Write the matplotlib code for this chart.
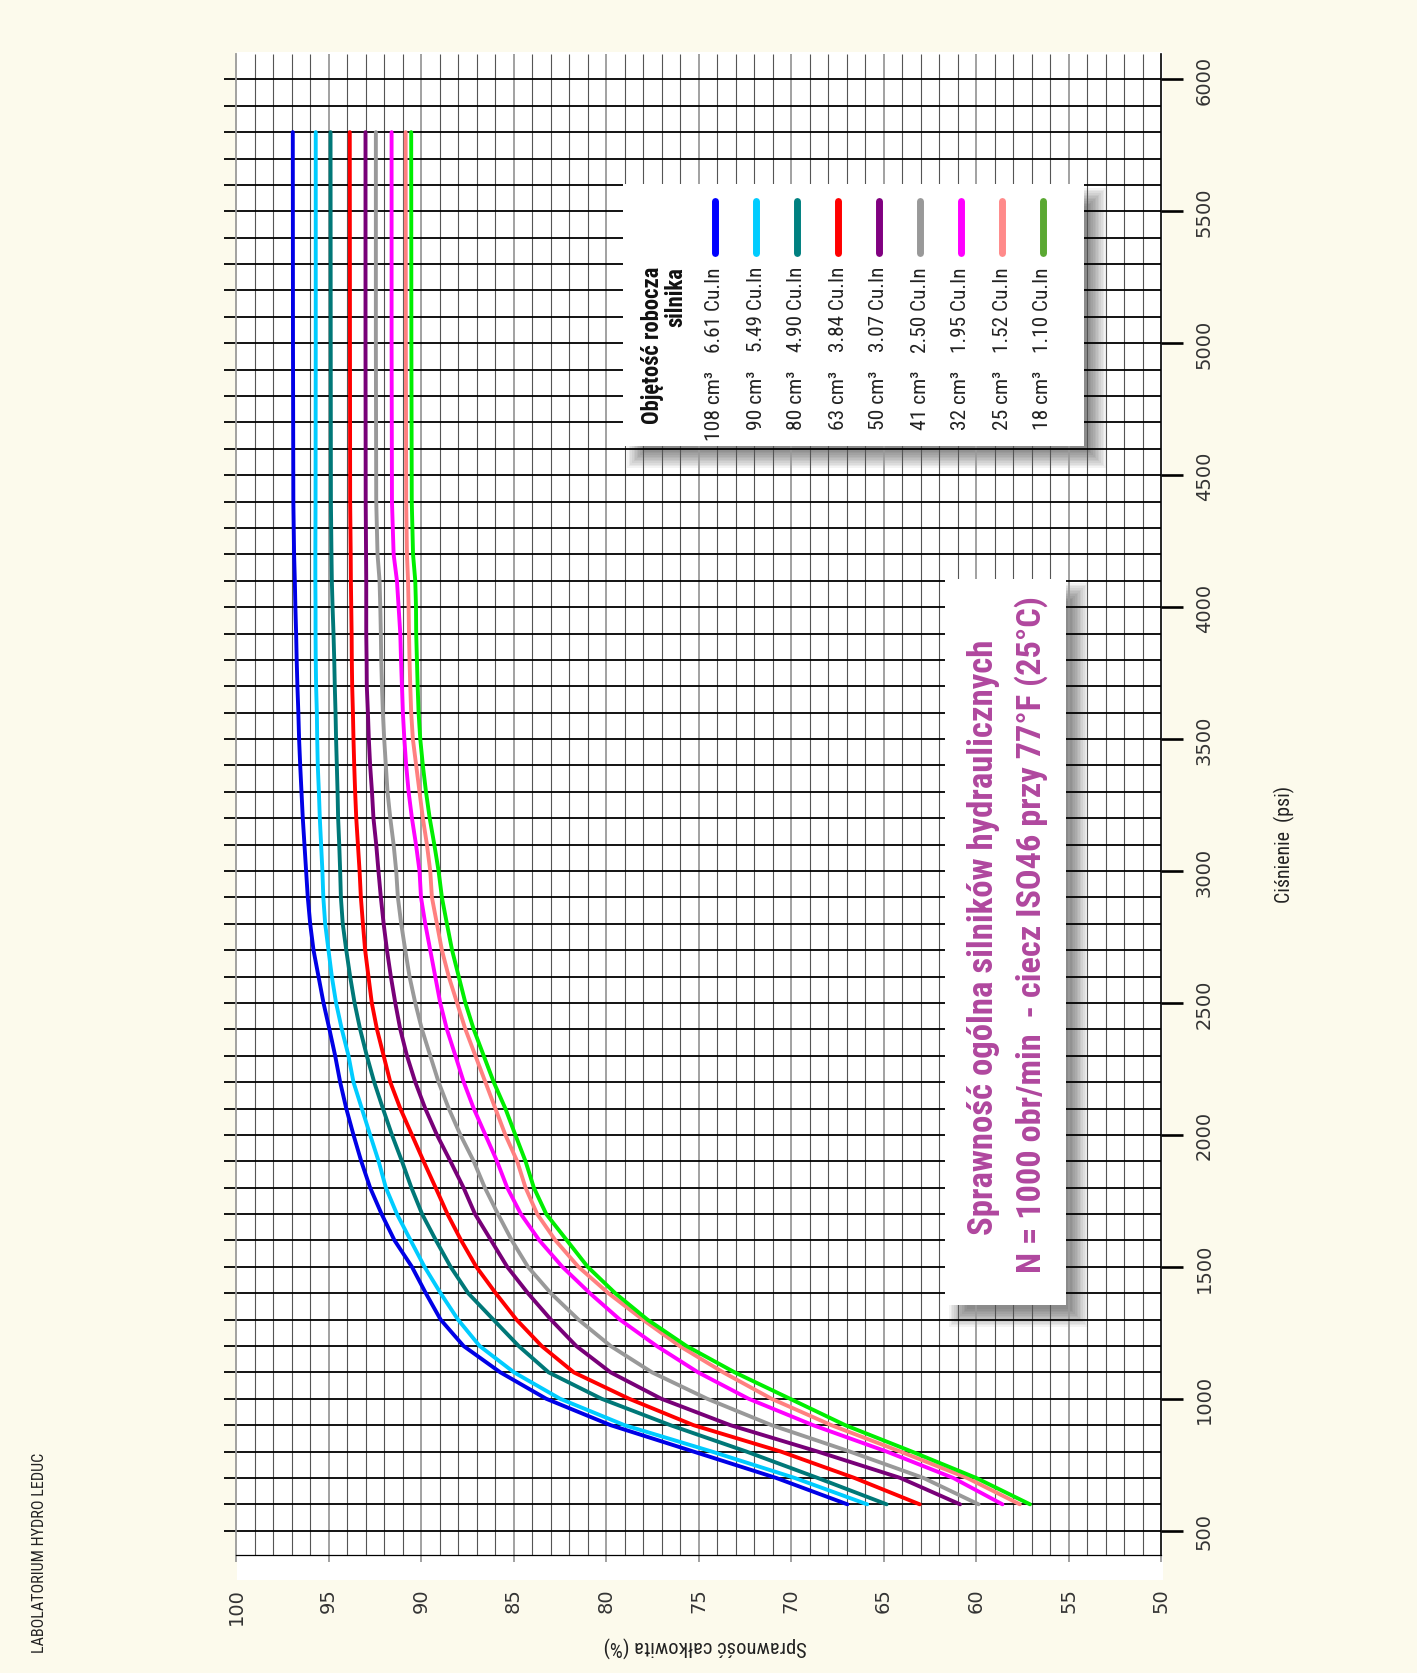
import matplotlib
matplotlib.use('Agg')
import matplotlib.pyplot as plt
from matplotlib.patches import Rectangle
import numpy as np
import logging
logging.getLogger('matplotlib.font_manager').setLevel(logging.ERROR)

# ---------------- data ----------------
pressure = [600, 700, 800, 900, 1000, 1100, 1200, 1300, 1400, 1500, 1600, 1700, 1800,
            1900, 2000, 2100, 2200, 2300, 2400, 2500, 2600, 2700, 2800, 2900,
            3000, 3100, 3200, 3300, 3400, 3500, 3600, 3700, 3800, 3900, 4000, 4100,
            4200, 4400, 5000, 5800]

eff_108 = [66.95, 70.80, 75.27, 79.75, 83.23, 85.71, 87.70, 88.94, 89.74, 90.49, 91.43, 92.13, 92.75,
           93.23, 93.65, 94.04, 94.37, 94.64, 94.95, 95.27, 95.54, 95.81, 95.99, 96.12,
           96.21, 96.30, 96.39, 96.46, 96.53, 96.59, 96.63, 96.68, 96.72, 96.75, 96.79, 96.82,
           96.86, 96.90, 96.92, 96.93]
eff_90 = [65.88, 69.80, 74.28, 79.00, 82.48, 84.97, 86.83, 88.00, 88.94, 89.81, 90.56, 91.30, 91.90,
          92.29, 92.75, 93.20, 93.65, 93.92, 94.28, 94.59, 94.82, 95.00, 95.18, 95.28,
          95.33, 95.40, 95.47, 95.52, 95.58, 95.61, 95.63, 95.67, 95.69, 95.70, 95.70, 95.71,
          95.71, 95.70, 95.69, 95.69]
eff_80 = [64.83, 68.56, 72.41, 76.52, 80.24, 83.10, 84.72, 86.09, 87.45, 88.40, 89.19, 89.94, 90.52,
          91.03, 91.57, 92.06, 92.53, 92.93, 93.29, 93.59, 93.83, 94.04, 94.23, 94.33,
          94.37, 94.42, 94.48, 94.51, 94.55, 94.59, 94.62, 94.66, 94.69, 94.73, 94.78, 94.82,
          94.84, 94.87, 94.88, 94.89]
eff_63 = [63.04, 66.57, 70.55, 75.27, 78.75, 81.74, 83.48, 84.84, 85.96, 87.01, 87.83, 88.57, 89.21,
          89.86, 90.49, 91.12, 91.66, 92.02, 92.38, 92.66, 92.84, 93.02, 93.14, 93.25,
          93.32, 93.41, 93.50, 93.56, 93.61, 93.65, 93.68, 93.72, 93.74, 93.75, 93.77, 93.79,
          93.80, 93.83, 93.84, 93.85]
eff_50 = [60.86, 64.09, 68.56, 73.28, 77.01, 79.75, 81.61, 82.98, 84.22, 85.34, 86.21, 87.08, 87.70,
          88.41, 89.14, 89.77, 90.31, 90.76, 91.12, 91.39, 91.63, 91.84, 92.02, 92.17,
          92.30, 92.42, 92.57, 92.65, 92.75, 92.82, 92.87, 92.93, 92.94, 92.96, 92.96, 92.96,
          92.97, 92.99, 93.00, 93.00]
eff_41 = [59.86, 62.84, 66.82, 71.05, 74.53, 77.51, 79.75, 81.49, 82.98, 84.22, 85.09, 85.84, 86.55,
          87.15, 87.87, 88.50, 89.05, 89.50, 89.95, 90.31, 90.62, 90.85, 91.07, 91.25,
          91.34, 91.48, 91.66, 91.81, 91.90, 91.99, 92.06, 92.11, 92.15, 92.17, 92.20, 92.24,
          92.35, 92.42, 92.44, 92.44]
eff_32 = [58.57, 61.23, 64.83, 68.81, 72.29, 75.02, 77.26, 79.25, 80.87, 82.36, 83.60, 84.60, 85.34,
          85.89, 86.52, 87.15, 87.69, 88.14, 88.60, 88.96, 89.23, 89.50, 89.77, 90.00,
          90.08, 90.27, 90.49, 90.67, 90.80, 90.90, 90.98, 91.03, 91.08, 91.12, 91.21, 91.30,
          91.48, 91.57, 91.59, 91.59]
eff_25 = [57.63, 60.48, 64.09, 67.82, 71.05, 73.66, 76.02, 78.01, 79.87, 81.49, 82.73, 83.72, 84.35,
          84.80, 85.44, 85.98, 86.52, 87.06, 87.60, 88.05, 88.50, 88.87, 89.14, 89.41,
          89.50, 89.68, 89.90, 90.08, 90.26, 90.44, 90.53, 90.58, 90.62, 90.65, 90.67, 90.70,
          90.76, 90.80, 90.82, 90.83]
eff_18 = [57.08, 59.99, 63.47, 67.07, 70.05, 73.04, 75.65, 77.76, 79.50, 80.99, 82.11, 83.23, 83.90,
          84.35, 84.90, 85.44, 86.07, 86.61, 87.15, 87.60, 87.96, 88.32, 88.60, 88.87,
          89.05, 89.28, 89.53, 89.73, 89.90, 90.04, 90.13, 90.18, 90.22, 90.26, 90.27, 90.31,
          90.43, 90.50, 90.52, 90.53]

series = [eff_108, eff_90, eff_80, eff_63, eff_50, eff_41, eff_32, eff_25, eff_18]
labels_cm3 = ['108 cm³', '90 cm³', '80 cm³', '63 cm³', '50 cm³', '41 cm³', '32 cm³', '25 cm³', '18 cm³']
labels_cuin = ['6.61 Cu.In', '5.49 Cu.In', '4.90 Cu.In', '3.84 Cu.In', '3.07 Cu.In',
               '2.50 Cu.In', '1.95 Cu.In', '1.52 Cu.In', '1.10 Cu.In']
line_colors = ['#0000E6', '#00CCFF', '#007878', '#FF0000', '#780078', '#999999',
               '#FF00FF', '#FF8080', '#00EE00']
legend_colors = ['#0000FF', '#00CCFF', '#008080', '#FF0000', '#800080', '#999999',
                 '#FF00FF', '#FF8A8A', '#5AA832']

eff_ticks = list(range(50, 101, 5))
p_major = list(range(500, 6001, 500))
p_minor = list(range(500, 6001, 100))

title1 = 'Sprawność ogólna silników hydraulicznych'
title2 = 'N = 1000 obr/min  - ciecz ISO46 przy 77°F (25°C)'
legend_title = 'Objętość robocza\nsilnika'
xlabel = 'Sprawność całkowita (%)'
ylabel = 'Ciśnienie  (psi)'
credit = 'LABOLATORIUM HYDRO LEDUC'

# ---------------- layout ----------------
W, H = 1417, 1674
NARROW = ['Roboto Condensed', 'DejaVu Sans Condensed', 'Liberation Sans Narrow',
          'Roboto', 'DejaVu Sans']
CREAM = '#FCFAEC'
TITLE_COLOR = '#B0479E'

fig = plt.figure(figsize=(W / 100, H / 100), dpi=100)
fig.patch.set_facecolor(CREAM)

# background layer (white paper + shadows, under the grid)
bg = fig.add_axes([0, 0, 1, 1], zorder=0)
bg.set_xlim(0, W); bg.set_ylim(H, 0); bg.axis('off')
bg.add_patch(Rectangle((237, 53), 926, 1528, facecolor='white', edgecolor='none'))


def shadow(axis, x, y, w, h, off=13, blur=9, n=12, total=0.55):
    for k in range(n):
        d = blur * (1 - 2 * k / (n - 1))
        axis.add_patch(Rectangle((x + off - d, y + off - d), w + 2 * d, h + 2 * d,
                                 facecolor='black', edgecolor='none', alpha=total / n))


LEG = (623, 185, 461, 262)
TBOX = (945, 580, 121, 726)
shadow(bg, *LEG)
shadow(bg, *TBOX)

# main axes
ax = fig.add_axes([236 / W, 1 - 1556 / H, (1161 - 236) / W, (1556 - 55) / H], zorder=1)
ax.set_facecolor('none')
ax.set_xlim(100, 50)
ax.set_ylim(408, 6096)

minor_eff = [e for e in range(51, 100) if e % 5 != 0]
major_eff = [e for e in range(55, 100) if e % 5 == 0]
ax.vlines(minor_eff, 408, 6096, colors='#555555', linewidth=0.8, zorder=1)
ax.vlines(major_eff, 408, 6096, colors='#9A9A9A', linewidth=1.3, zorder=1)
ax.hlines(p_minor, 100, 50, colors='black', linewidth=1.3, zorder=2)

for s, c in zip(series, line_colors):
    ax.plot(s, pressure, color=c, linewidth=2.8, solid_capstyle='round',
            solid_joinstyle='round', zorder=3)

ax.spines['top'].set_visible(False)
ax.spines['left'].set_color('#9A9A9A'); ax.spines['left'].set_linewidth(1.3)
ax.spines['right'].set_color('black'); ax.spines['right'].set_linewidth(1.2)
ax.spines['bottom'].set_color('black'); ax.spines['bottom'].set_linewidth(0.9)

ax.set_xticks(eff_ticks)
ax.set_xticklabels([str(v) for v in eff_ticks], rotation=90, fontsize=14,
                   color='#333333', family='DejaVu Sans')
ax.tick_params(axis='x', which='major', direction='out', length=5, width=1.3,
               color='#9A9A9A', pad=18)

ax.yaxis.remove_overlapping_locs = False
ax.set_yticks(p_major)
ax.set_yticks(p_minor, minor=True)
ax.set_yticklabels([str(v) for v in p_major], rotation=90, va='center', fontsize=14,
                   color='#333333', family='DejaVu Sans')
ax.tick_params(axis='y', which='major', left=False, right=True, labelleft=False,
               labelright=True, direction='out', length=15.8, width=1.9,
               color='black', pad=8.5)
ax.tick_params(axis='y', which='minor', left=True, right=False, direction='out',
               length=8.6, width=1.3, color='black')
for lab in ax.get_yticklabels():
    lab.set_va('center')

# front layer (boxes and texts)
fr = fig.add_axes([0, 0, 1, 1], zorder=2)
fr.set_xlim(0, W); fr.set_ylim(H, 0); fr.axis('off')
fr.patch.set_alpha(0)

fit_list = []  # (text, target length in px along reading direction)

t = fr.text(705, 1647, xlabel, rotation=180, ha='center', va='center', fontsize=14,
            family=NARROW, color='#222222')
fit_list.append((t, 205, 'w'))
t = fr.text(1284, 844, ylabel, rotation=90, ha='center', va='center', fontsize=13.5,
            family=NARROW, color='#222222')
fit_list.append((t, 117, 'h'))
t = fr.text(40, 1553, credit, rotation=90, ha='center', va='center', fontsize=12,
            family=NARROW, color='#222222')
fit_list.append((t, 200, 'h'))

# legend box
fr.add_patch(Rectangle(LEG[:2], LEG[2], LEG[3], facecolor='white', edgecolor='none'))
t = fr.text(664, 267, legend_title, rotation=90, ha='center', va='top', fontsize=14,
            fontweight='bold', family=NARROW, multialignment='right', linespacing=1.0,
            color='#111111')
fit_list.append((t, 158, 'h'))
for i, (lc, l1, l2) in enumerate(zip(legend_colors, labels_cm3, labels_cuin)):
    x = 715 + 41 * i
    fr.plot([x, x], [202, 254], color=lc, linewidth=5, solid_capstyle='round')
    t = fr.text(x, 371, l1, rotation=90, ha='center', va='top', fontsize=15,
                family=NARROW, color='#222222')
    if i == 0:
        fit_list.append((t, 70, 'h'))
    t = fr.text(x, 267, l2, rotation=90, ha='center', va='top', fontsize=15,
                family=NARROW, color='#222222')
    if i == 0:
        fit_list.append((t, 86, 'h'))

# title box
fr.add_patch(Rectangle(TBOX[:2], TBOX[2], TBOX[3], facecolor='white', edgecolor='none'))
t = fr.text(983, 937, title1, rotation=90, ha='center', va='center', fontsize=22,
            fontweight='bold', family=NARROW, color=TITLE_COLOR)
fit_list.append((t, 595, 'h'))
t = fr.text(1031, 935, title2, rotation=90, ha='center', va='center', fontsize=22,
            fontweight='bold', family=NARROW, color=TITLE_COLOR)
fit_list.append((t, 675, 'h'))

# size the condensed texts to the lengths seen in the reference
fig.canvas.draw()
renderer = fig.canvas.get_renderer()
for t, target, axis_dim in fit_list:
    bb = t.get_window_extent(renderer)
    length = bb.width if axis_dim == 'w' else bb.height
    t.set_fontsize(t.get_fontsize() * target / length)

# apply the same size to all legend entry labels as their first one
cm_size = fit_list[4][0].get_fontsize()
cu_size = fit_list[5][0].get_fontsize()
for txt in fr.texts:
    s = txt.get_text()
    if s in labels_cm3:
        txt.set_fontsize(cm_size)
    elif s in labels_cuin:
        txt.set_fontsize(cu_size)

fig.savefig('out.png', dpi=100, facecolor=fig.get_facecolor())
